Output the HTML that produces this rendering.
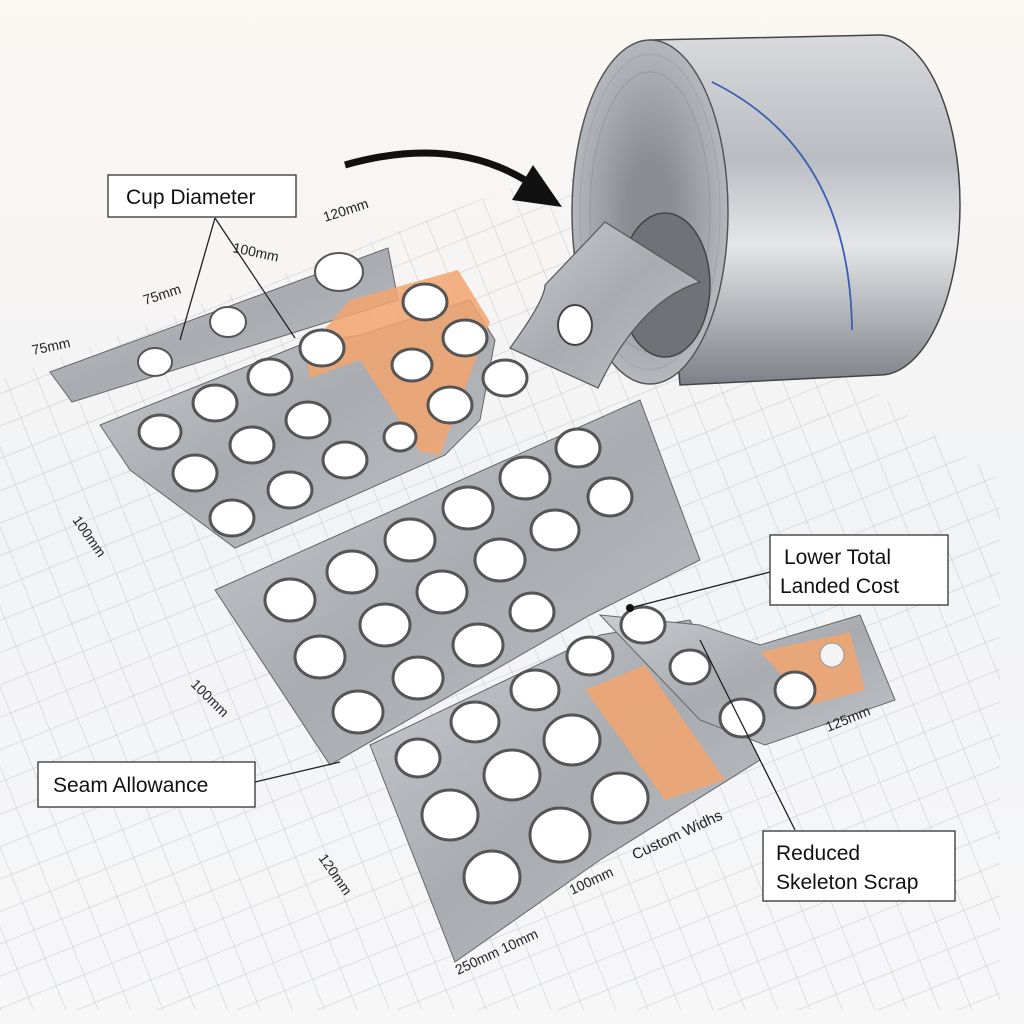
<!DOCTYPE html>
<html><head><meta charset="utf-8"><style>
html,body{margin:0;padding:0;background:#fff;width:1024px;height:1024px;overflow:hidden}
svg{display:block;overflow:hidden}
text{font-family:"Liberation Sans",sans-serif}
</style></head><body>
<svg width="1024" height="1024" viewBox="0 0 1024 1024" xmlns="http://www.w3.org/2000/svg">
<defs>
<pattern id="grid" width="30" height="30" patternUnits="userSpaceOnUse" patternTransform="rotate(-22 450 600)">
<path d="M0 0 H30 M0 0 V30" fill="none" stroke="#a8b0b8" stroke-width="1.2" opacity="0.55"/>
</pattern>
<linearGradient id="bg" x1="0" y1="0" x2="0" y2="1">
<stop offset="0" stop-color="#fbf7f3"/><stop offset="0.5" stop-color="#f2f3f5"/><stop offset="1" stop-color="#f7f7f8"/></linearGradient>
<linearGradient id="metal" x1="0" y1="0" x2="1" y2="1">
<stop offset="0" stop-color="#c9cbcf"/><stop offset="0.5" stop-color="#a8abb0"/><stop offset="1" stop-color="#bfc2c6"/></linearGradient>
<linearGradient id="cyl" x1="0" y1="0" x2="0" y2="1">
<stop offset="0" stop-color="#d8dadd"/><stop offset="0.35" stop-color="#b9bcc1"/><stop offset="0.6" stop-color="#e4e6e8"/><stop offset="1" stop-color="#7d8187"/></linearGradient>
<radialGradient id="face" cx="0.5" cy="0.5" r="0.5">
<stop offset="0.3" stop-color="#8a8e94"/><stop offset="1" stop-color="#b4b7bc"/></radialGradient>
</defs>
<rect width="1024" height="1024" fill="url(#bg)"/>
<polygon points="0,380 560,170 1000,480 1000,1010 0,1010" fill="url(#grid)"/>

<path d="M650 40 L880 35 A80 170 0 0 1 880 375 L680 385 Z" fill="url(#cyl)" stroke="#444" stroke-width="1.5"/>
<ellipse cx="650" cy="212" rx="78" ry="172" fill="url(#face)" stroke="#555" stroke-width="1.5"/>
<ellipse cx="650" cy="212" rx="60" ry="140" fill="none" stroke="#999" stroke-width="1"/>
<ellipse cx="650" cy="212" rx="70" ry="158" fill="none" stroke="#a0a3a8" stroke-width="1"/>
<ellipse cx="665" cy="285" rx="45" ry="72" fill="#6f7379" stroke="#444" stroke-width="1.5"/>
<path d="M712 82 Q850 150 852 330" fill="none" stroke="#3a5fb0" stroke-width="1.8"/>

<path d="M605 222 L700 282 Q640 300 598 388 L510 348 Q545 300 545 285 Z" fill="url(#metal)" stroke="#555" stroke-width="1.2"/>
<ellipse cx="575" cy="325" rx="17" ry="20" fill="#fff" stroke="#444" stroke-width="2"/>

<path d="M345 165 Q450 135 525 180" fill="none" stroke="#111" stroke-width="7"/>
<path d="M512 200 L562 207 L533 165 Z" fill="#111"/>

<polygon points="50,372 388,248 398,300 72,402" fill="url(#metal)" stroke="#666"/>
<g fill="#fff" stroke="#555" stroke-width="2">
<ellipse cx="155" cy="362" rx="17" ry="14"/><ellipse cx="228" cy="322" rx="18" ry="15"/><ellipse cx="339" cy="272" rx="24" ry="19"/>
</g>
<polygon points="100,425 300,345 360,335 470,300 495,340 480,420 445,455 235,548 130,470" fill="url(#metal)" stroke="#666"/>
<polygon points="350,300 458,270 490,322 440,455 420,452 360,360 310,378 305,352" fill="#f2a46e" opacity="0.85"/>
<polygon points="215,590 640,400 700,560 590,615 330,765" fill="url(#metal)" stroke="#666"/>
<polygon points="370,745 600,635 690,620 760,760 600,860 455,962" fill="url(#metal)" stroke="#666"/>
<polygon points="585,690 645,665 725,780 665,800" fill="#f2a46e" opacity="0.85"/>
<polygon points="600,615 700,625 760,645 860,615 895,700 765,745 700,720" fill="url(#metal)" stroke="#666"/>
<polygon points="760,652 850,632 865,690 810,705" fill="#f2a46e" opacity="0.85"/>

<g fill="#fff" stroke="#555" stroke-width="3">
<ellipse cx="160" cy="432" rx="21" ry="17"/><ellipse cx="215" cy="403" rx="22" ry="18"/><ellipse cx="270" cy="377" rx="22" ry="18"/><ellipse cx="322" cy="348" rx="22" ry="18"/>
<ellipse cx="195" cy="473" rx="22" ry="18"/><ellipse cx="252" cy="445" rx="22" ry="18"/><ellipse cx="308" cy="420" rx="22" ry="18"/><ellipse cx="400" cy="437" rx="16" ry="14"/>
<ellipse cx="232" cy="518" rx="22" ry="18"/><ellipse cx="290" cy="490" rx="22" ry="18"/><ellipse cx="345" cy="460" rx="22" ry="18"/>
<ellipse cx="425" cy="302" rx="22" ry="18"/><ellipse cx="465" cy="338" rx="22" ry="18"/><ellipse cx="412" cy="365" rx="20" ry="16"/><ellipse cx="450" cy="405" rx="22" ry="18"/><ellipse cx="505" cy="378" rx="22" ry="18"/>
<ellipse cx="290" cy="600" rx="25" ry="21"/><ellipse cx="352" cy="572" rx="25" ry="21"/><ellipse cx="410" cy="540" rx="25" ry="21"/><ellipse cx="468" cy="508" rx="25" ry="21"/><ellipse cx="525" cy="478" rx="25" ry="21"/><ellipse cx="578" cy="448" rx="22" ry="19"/>
<ellipse cx="320" cy="657" rx="25" ry="21"/><ellipse cx="385" cy="625" rx="25" ry="21"/><ellipse cx="442" cy="592" rx="25" ry="21"/><ellipse cx="500" cy="560" rx="25" ry="21"/><ellipse cx="555" cy="530" rx="24" ry="20"/><ellipse cx="610" cy="497" rx="22" ry="19"/>
<ellipse cx="358" cy="712" rx="25" ry="21"/><ellipse cx="418" cy="678" rx="25" ry="21"/><ellipse cx="478" cy="645" rx="25" ry="21"/><ellipse cx="532" cy="612" rx="22" ry="19"/>
<ellipse cx="418" cy="758" rx="22" ry="19"/><ellipse cx="475" cy="722" rx="24" ry="20"/><ellipse cx="535" cy="690" rx="24" ry="20"/><ellipse cx="590" cy="656" rx="23" ry="19"/><ellipse cx="643" cy="625" rx="22" ry="18"/>
<ellipse cx="450" cy="815" rx="28" ry="25"/><ellipse cx="512" cy="775" rx="28" ry="25"/><ellipse cx="572" cy="740" rx="28" ry="25"/>
<ellipse cx="492" cy="877" rx="28" ry="26"/><ellipse cx="560" cy="835" rx="30" ry="27"/><ellipse cx="620" cy="798" rx="28" ry="25"/>
<ellipse cx="690" cy="667" rx="20" ry="17"/><ellipse cx="742" cy="718" rx="22" ry="19"/><ellipse cx="795" cy="690" rx="20" ry="18"/>
</g>
<circle cx="832" cy="655" r="12" fill="#f3f3f3" stroke="#999"/>

<g stroke="#222" stroke-width="1.3" fill="none">
<line x1="215" y1="218" x2="180" y2="340"/><line x1="215" y1="218" x2="295" y2="338"/>
<line x1="770" y1="572" x2="630" y2="608"/>
<line x1="255" y1="782" x2="340" y2="762"/>
<line x1="795" y1="830" x2="700" y2="640"/>
</g>
<circle cx="630" cy="608" r="4" fill="#111"/>

<g fill="#fff" stroke="#333" stroke-width="1.3">
<rect x="108" y="175" width="188" height="42"/>
<rect x="770" y="535" width="178" height="70"/>
<rect x="38" y="762" width="217" height="45"/>
<rect x="763" y="831" width="192" height="70"/>
</g>
<g font-size="21" fill="#111">
<text x="126" y="204">Cup Diameter</text>
<text x="784" y="564">Lower Total</text><text x="780" y="593">Landed Cost</text>
<text x="53" y="792">Seam Allowance</text>
<text x="776" y="860">Reduced</text><text x="776" y="889">Skeleton Scrap</text>
</g>

<g font-size="14" fill="#222">
<text transform="translate(325,222) rotate(-18)">120mm</text>
<text transform="translate(232,252) rotate(12)">100mm</text>
<text transform="translate(145,305) rotate(-18)">75mm</text>
<text transform="translate(33,355) rotate(-12)">75mm</text>
<text transform="translate(72,520) rotate(55)">100mm</text>
<text transform="translate(190,685) rotate(45)">100mm</text>
<text transform="translate(318,858) rotate(55)">120mm</text>
<text transform="translate(458,975) rotate(-25)">250mm 10mm</text>
<text transform="translate(572,895) rotate(-25)">100mm</text>
<text transform="translate(635,860) rotate(-25)" font-size="15">Custom Widhs</text>
<text transform="translate(828,732) rotate(-22)">125mm</text>
</g>
</svg>
</body></html>
